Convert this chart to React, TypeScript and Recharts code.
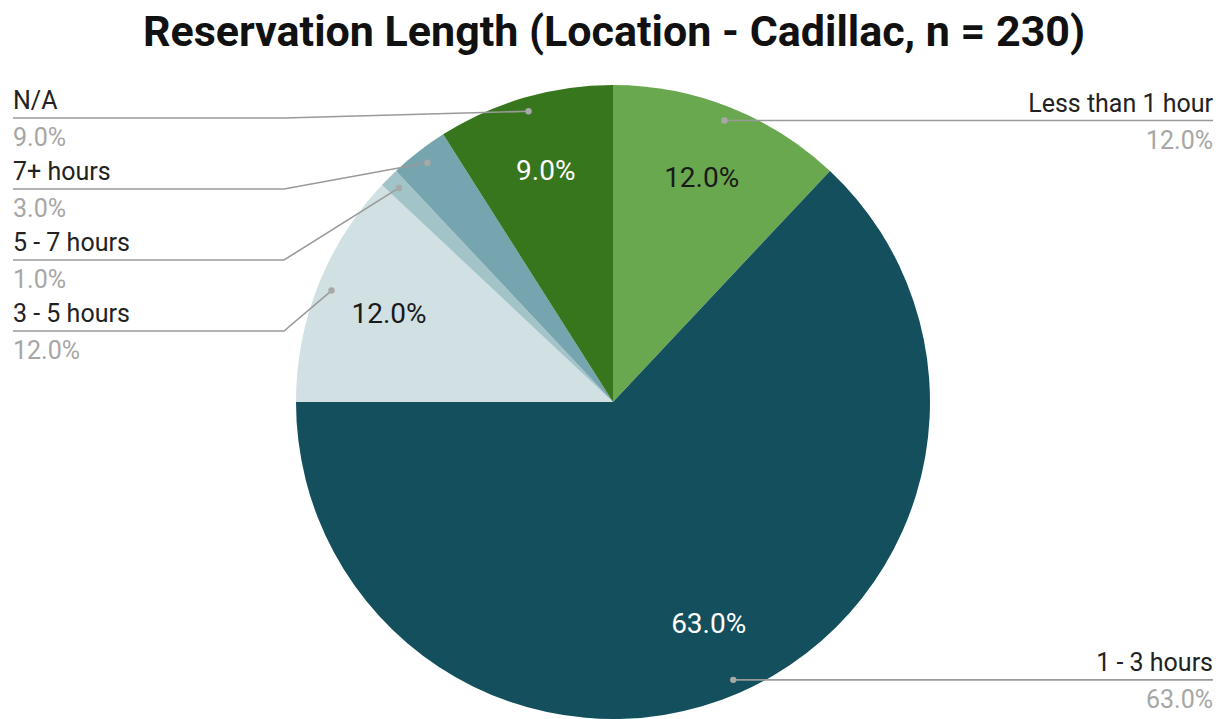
import React from "react";
import { PieChart, Pie, Cell } from "recharts";

const categories = ["Less than 1 hour", "1 - 3 hours", "3 - 5 hours", "5 - 7 hours", "7+ hours", "N/A"];
const shares = [12, 63, 12, 1, 3, 9];
const colors = ["#6aa84f", "#134f5c", "#d0e0e3", "#a2c4c9", "#76a5af", "#38761d"];
const insideTextColors = ["#1a1a1a", "#ffffff", "#1a1a1a", "#1a1a1a", "#1a1a1a", "#ffffff"];

const data = categories.map((name, i) => ({ name, value: shares[i] }));

const W = 1225;
const H = 719;
const CX = 613;
const CY = 402;
const R = 317;
const RAD = Math.PI / 180;
const FONT = "Roboto, 'Noto Sans', sans-serif";

// which labels sit on the left side (mid angle past half the circle)
const total = shares.reduce((a, b) => a + b, 0);
const midFrac: number[] = [];
{
	let acc = 0;
	shares.forEach((v) => {
		midFrac.push((acc + v / 2) / total);
		acc += v;
	});
}
const isLeft = midFrac.map((f) => f > 0.5);

const renderLabel = (props: any) => {
	const { cx, cy, midAngle, outerRadius, index, percent } = props;
	const cos = Math.cos(-midAngle * RAD);
	const sin = Math.sin(-midAngle * RAD);
	const pctText = (percent * 100).toFixed(1) + "%";
	const out: React.ReactNode[] = [];

	// inside label
	if (percent >= 0.05) {
		const ri = outerRadius * 0.76;
		out.push(
			<text
				key="in"
				x={cx + ri * cos}
				y={cy + ri * sin}
				textAnchor="middle"
				dominantBaseline="central"
				fontFamily={FONT}
				fontSize={28}
				fill={insideTextColors[index]}
			>
				{pctText}
			</text>
		);
	}

	// outside label with leader line
	const rd = outerRadius * 0.955;
	const dx = cx + rd * cos;
	const dy = cy + rd * sin;
	const left = isLeft[index];
	let ly = dy;
	if (left) {
		let order = 0;
		for (let j = index + 1; j < shares.length; j++) if (isLeft[j]) order++;
		ly = Math.max(dy, cy - 284 + order * 71);
	}
	const elbowX = left ? cx - 329 : cx + 329;
	const endX = left ? 13 : 1213;
	out.push(
		<polyline
			key="line"
			points={`${dx},${dy} ${elbowX},${ly} ${endX},${ly}`}
			fill="none"
			stroke="#9a9a9a"
			strokeWidth={1.6}
		/>
	);
	out.push(<circle key="dot" cx={dx} cy={dy} r={3.2} fill="#a8a8a8" />);
	out.push(
		<text
			key="name"
			x={endX}
			y={ly - 9}
			textAnchor={left ? "start" : "end"}
			fontFamily={FONT}
			fontSize={25}
			fill="#222222"
		>
			{data[index].name}
		</text>
	);
	out.push(
		<text
			key="pct"
			x={endX}
			y={ly + 28}
			textAnchor={left ? "start" : "end"}
			fontFamily={FONT}
			fontSize={25}
			fill="#a6a6a6"
		>
			{pctText}
		</text>
	);
	return <g>{out}</g>;
};

const App = () => {
	return (
		<div style={{ position: "absolute", left: 0, top: 0, width: W, height: H, background: "#fff" }}>
			<PieChart width={W} height={H} margin={{ top: 0, right: 0, bottom: 0, left: 0 }}>
				<text
					x={614}
					y={46}
					textAnchor="middle"
					fontFamily={FONT}
					fontWeight={700}
					fontSize={43}
					fill="#111111"
				>
					Reservation Length (Location - Cadillac, n = 230)
				</text>
				<Pie
					data={data}
					dataKey="value"
					nameKey="name"
					cx={CX}
					cy={CY}
					outerRadius={R}
					startAngle={90}
					endAngle={-270}
					stroke="none"
					label={renderLabel}
					labelLine={false}
					isAnimationActive={false}
				>
					{data.map((d, i) => (
						<Cell key={d.name} fill={colors[i]} />
					))}
				</Pie>
			</PieChart>
		</div>
	);
};

export default App;
